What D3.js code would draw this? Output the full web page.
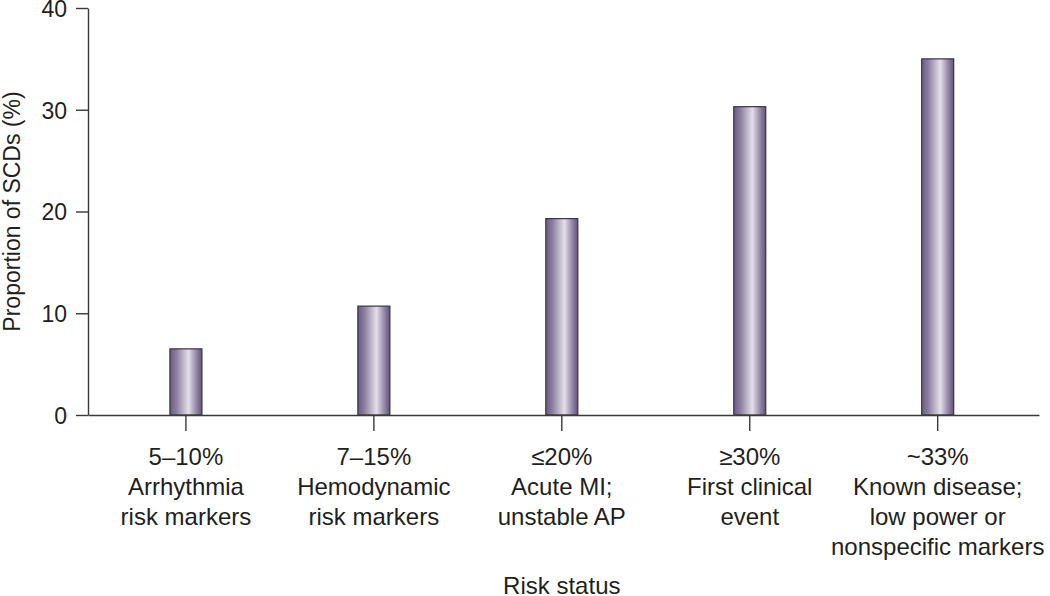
<!DOCTYPE html>
<html>
<head>
<meta charset="utf-8">
<script src="https://cdn.jsdelivr.net/npm/d3@7"></script>
<style>
  body { margin: 0; background: #fff; }
  svg text { font-family: "Liberation Sans", Arial, sans-serif; fill: #231f20; }
</style>
</head>
<body>
<div id="chart"></div>
<script>
// data
const categories = ["a", "b", "c", "d", "e"];
const values = [6.5, 10.7, 19.3, 30.3, 35.0];
const labelLines = [
  ["5\u201310%", "Arrhythmia", "risk markers"],
  ["7\u201315%", "Hemodynamic", "risk markers"],
  ["\u226420%", "Acute MI;", "unstable AP"],
  ["\u226530%", "First clinical", "event"],
  ["~33%", "Known disease;", "low power or", "nonspecific markers"]
];
const yTicks = [0, 10, 20, 30, 40];

const w = 1050;
const h = 596;
const padLeft = 88, padRight = 1039, padTop = 8, padBottom = 415;
const barW = 32;

const svg = d3.select("#chart")
  .append("svg")
  .attr("width", w)
  .attr("height", h);

const defs = svg.append("defs");
const grad = defs.append("linearGradient")
  .attr("id", "barGrad")
  .attr("x1", "0%").attr("x2", "100%")
  .attr("y1", "0%").attr("y2", "0%");
[[0, "#6a5c80"], [0.2, "#8a7d9f"], [0.58, "#e4dfe9"], [0.85, "#8c7fa0"], [1, "#62557a"]]
  .forEach(s => grad.append("stop").attr("offset", s[0]).attr("stop-color", s[1]));

const xScale = d3.scaleBand()
  .domain(categories)
  .range([padLeft, padRight])
  .paddingInner(0)
  .paddingOuter(0.03)
  .align(0.35);

const yScale = d3.scaleLinear()
  .domain([0, 40])
  .range([padBottom, padTop]);

// bars
svg.selectAll("rect.bar")
  .data(values)
  .enter()
  .append("rect")
  .attr("class", "bar")
  .attr("x", (d, i) => xScale(categories[i]) + xScale.bandwidth() / 2 - barW / 2)
  .attr("y", d => yScale(d))
  .attr("width", barW)
  .attr("height", d => yScale(0) - yScale(d))
  .attr("fill", "url(#barGrad)")
  .attr("stroke", "#3b3245")
  .attr("stroke-width", 1.2);

// y axis
const yAxis = d3.axisLeft(yScale)
  .tickValues(yTicks)
  .tickSize(12)
  .tickSizeOuter(0)
  .tickPadding(9);

const gy = svg.append("g")
  .attr("id", "y-axis")
  .attr("transform", "translate(" + padLeft + ",0)")
  .call(yAxis);
gy.selectAll("text").style("font-size", "23px").attr("dy", "0.36em");

// x axis
const xAxis = d3.axisBottom(xScale)
  .tickSize(16)
  .tickSizeOuter(0)
  .tickFormat("");

const gx = svg.append("g")
  .attr("id", "x-axis")
  .attr("transform", "translate(0," + padBottom + ")")
  .call(xAxis);

svg.selectAll(".domain, .tick line")
  .attr("stroke", "#3a3a3a")
  .attr("stroke-width", 1.4);

// multi-line category labels
categories.forEach((c, i) => {
  const t = svg.append("text")
    .attr("text-anchor", "middle")
    .style("font-size", "24px")
    .attr("x", xScale(c) + xScale.bandwidth() / 2)
    .attr("y", 465);
  labelLines[i].forEach((line, j) => {
    t.append("tspan")
      .attr("x", xScale(c) + xScale.bandwidth() / 2)
      .attr("dy", j === 0 ? 0 : 30)
      .text(line);
  });
});

// axis titles
svg.append("text")
  .attr("text-anchor", "middle")
  .style("font-size", "23px")
  .attr("transform", "translate(20," + ((padTop + padBottom) / 2) + ") rotate(-90)")
  .text("Proportion of SCDs (%)");

svg.append("text")
  .attr("text-anchor", "middle")
  .style("font-size", "24px")
  .attr("x", xScale("c") + xScale.bandwidth() / 2)
  .attr("y", 594)
  .text("Risk status");
</script>
</body>
</html>
